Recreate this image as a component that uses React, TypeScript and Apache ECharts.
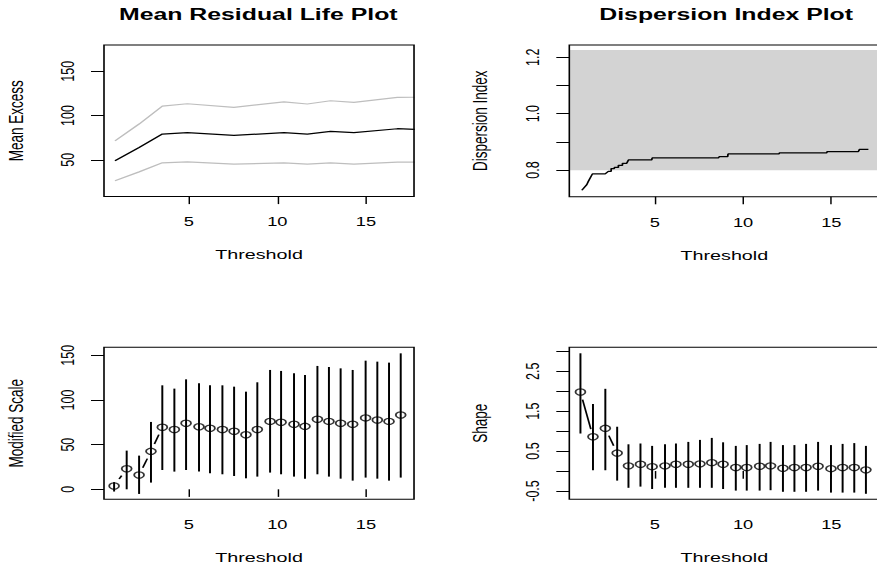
import React, { useEffect, useRef } from "react";
import * as echarts from "echarts";

// ---- data ----
// Mean Residual Life plot
const mrlThreshold = [0.84, 2.2, 3.51, 4.92, 7.55, 10.37, 11.69, 13.0, 14.32, 16.77, 17.75];
const mrlMean = [48.9, 64.0, 79.1, 80.6, 77.6, 80.6, 79.1, 82.1, 80.6, 85.1, 84.4];
const mrlUpper = [71.3, 90.4, 110.7, 113.3, 109.3, 115.3, 113.0, 116.7, 114.9, 120.5, 120.6];
const mrlLower = [26.3, 36.4, 46.6, 47.7, 45.1, 46.6, 45.1, 46.6, 45.1, 47.5, 47.3];

// Dispersion index plot
const diThreshold = [0.87, 1.15, 1.24, 1.47, 2.19, 2.37, 2.53, 2.53, 2.71, 2.71, 2.94, 2.94, 3.17, 3.17, 3.41, 3.51, 4.83, 4.85, 8.6, 8.65, 9.13, 9.15, 12.04, 12.06, 14.74, 14.76, 16.53, 16.6, 17.1];
const diValue = [0.728, 0.748, 0.76, 0.786, 0.786, 0.795, 0.795, 0.805, 0.805, 0.809, 0.809, 0.8165, 0.8165, 0.8236, 0.8236, 0.8355, 0.8355, 0.8426, 0.8426, 0.8473, 0.8473, 0.8568, 0.8568, 0.8603, 0.8603, 0.865, 0.865, 0.8733, 0.8733];
const diBandLower = 0.799;
const diBandUpper = 1.226;

// Parameter stability plots
const fitThreshold = [0.79, 1.5, 2.2, 2.87, 3.51, 4.19, 4.85, 5.58, 6.2, 6.9, 7.56, 8.23, 8.87, 9.59, 10.21, 10.94, 11.56, 12.26, 12.91, 13.57, 14.25, 14.98, 15.64, 16.3, 16.96];
const scaleEst = [3.7, 23, 16, 42.5, 69.4, 67, 73.9, 70, 68.3, 67, 65, 61, 67, 76, 75, 72.8, 70.5, 78.4, 76, 73.9, 72.8, 79.9, 77.6, 76, 83.2];
const scaleLow = [-2.5, 0, -5.2, 7.5, 21.6, 19.8, 21.6, 19.8, 17.9, 16.8, 14.9, 12.3, 14.2, 18.7, 16.8, 14.2, 11.9, 16.8, 14.2, 11.9, 9.7, 13.1, 11.9, 9.7, 13.1];
const scaleHigh = [8, 43.3, 37.7, 75.4, 116.4, 112.7, 123.1, 118.7, 116.4, 116.4, 114.9, 109.3, 119.8, 133.6, 132.5, 129.9, 128, 138.1, 136.9, 135.4, 133.6, 144, 142.9, 141.8, 152.2];
const shapeEst = [1.98, 0.86, 1.07, 0.45, 0.13, 0.17, 0.11, 0.13, 0.17, 0.17, 0.18, 0.21, 0.17, 0.09, 0.09, 0.12, 0.13, 0.07, 0.09, 0.09, 0.12, 0.06, 0.09, 0.09, 0.03];
const shapeLow = [0.94, 0.02, 0.02, -0.24, -0.42, -0.39, -0.45, -0.42, -0.42, -0.42, -0.42, -0.42, -0.45, -0.49, -0.49, -0.49, -0.48, -0.52, -0.52, -0.52, -0.49, -0.54, -0.54, -0.54, -0.57];
const shapeHigh = [2.95, 1.68, 2.06, 1.11, 0.67, 0.69, 0.63, 0.67, 0.69, 0.73, 0.78, 0.83, 0.72, 0.63, 0.65, 0.68, 0.73, 0.65, 0.65, 0.68, 0.73, 0.65, 0.68, 0.7, 0.63];

// tick values
const xTicks = [5, 10, 15];
const mrlYTicks = [50, 100, 150];
const diYTicks = [0.8, 0.9, 1.0, 1.1, 1.2];
const diYLabels = [0.8, 1.0, 1.2];
const scaleYTicks = [0, 50, 100, 150];
const shapeYTicks = [-0.5, 0, 0.5, 1, 1.5, 2, 2.5, 3];
const shapeYLabels = [-0.5, 0.5, 1.5, 2.5];

const titles = ["Mean Residual Life Plot", "Dispersion Index Plot"];

const STRETCH = 877 / 600;
const FONT = "'Liberation Sans', Arial, Helvetica, sans-serif";

function zip(a: number[], b: number[]) {
  return a.map((v, i) => [v, b[i]]);
}

export default function App() {
  const ref = useRef<HTMLDivElement>(null);

  useEffect(() => {
    if (!ref.current) return;
    const chart = echarts.init(ref.current, undefined, { renderer: "svg" });

    const gridW = 212.1;
    const grids = [
      { left: 71.15, top: 45, width: gridW, height: 151.5 },
      { left: 389.5, top: 45, width: gridW, height: 151.7 },
      { left: 71.15, top: 347.3, width: gridW, height: 152 },
      { left: 389.5, top: 347.3, width: gridW, height: 152 },
    ].map((g) => ({
      ...g,
      show: true,
      z: 10,
      borderColor: "#000",
      borderWidth: 1.1,
      backgroundColor: "rgba(0,0,0,0)",
    }));

    const xRanges = [
      [0.22, 17.71],
      [0.16, 17.72],
      [0.22, 17.71],
      [0.16, 17.72],
    ];

    const xAxis = xRanges.map((r, i) => ({
      gridIndex: i,
      type: "value",
      min: r[0],
      max: r[1],
      axisLine: { show: false },
      splitLine: { show: false },
      axisTick: {
        show: true,
        length: 7.6,
        customValues: xTicks,
        lineStyle: { color: "#000", width: 1 },
      },
      axisLabel: {
        customValues: xTicks,
        margin: 19,
        fontSize: 12.5,
        color: "#000",
        fontFamily: FONT,
      },
      name: "Threshold",
      nameLocation: "middle",
      nameGap: 51.5,
      nameTextStyle: { fontSize: 13.5, color: "#000", fontFamily: FONT },
    }));

    const yDefs = [
      { min: 8.6, max: 179.6, ticks: mrlYTicks, labels: mrlYTicks, name: "Mean Excess", fmt: (v: number) => String(v), gap: 52.5 },
      { min: 0.705, max: 1.2437, ticks: diYTicks, labels: diYLabels, name: "Dispersion Index", fmt: (v: number) => v.toFixed(1), gap: 53.5 },
      { min: -11.2, max: 158.96, ticks: scaleYTicks, labels: scaleYTicks, name: "Modified Scale", fmt: (v: number) => String(v), gap: 52.5 },
      { min: -0.708, max: 3.1, ticks: shapeYTicks, labels: shapeYLabels, name: "Shape", fmt: (v: number) => v.toFixed(1), gap: 53.5 },
    ];

    const yAxis = yDefs.map((d, i) => ({
      gridIndex: i,
      type: "value",
      min: d.min,
      max: d.max,
      axisLine: { show: false },
      splitLine: { show: false },
      axisTick: {
        show: true,
        length: 8.9,
        customValues: d.ticks,
        lineStyle: { color: "#000", width: 1 },
      },
      axisLabel: {
        customValues: d.labels,
        rotate: 90,
        align: "center",
        verticalAlign: "middle",
        margin: 24.8,
        fontSize: 12.5,
        color: "#000",
        fontFamily: FONT,
        formatter: d.fmt,
      },
      name: d.name,
      nameLocation: "middle",
      nameGap: d.gap,
      nameRotate: 90,
      nameTextStyle: { fontSize: 13.5, color: "#000", fontFamily: FONT },
    }));

    const GAP = 7.7;
    const segRender = (params: any, api: any) => {
      const p1 = api.coord([api.value(0), api.value(1)]);
      const p2 = api.coord([api.value(2), api.value(3)]);
      const dx = p2[0] - p1[0];
      const dy = p2[1] - p1[1];
      const d = Math.sqrt(dx * dx + dy * dy);
      if (d <= 2 * GAP) return { type: "group", children: [] };
      const ux = dx / d;
      const uy = dy / d;
      return {
        type: "line",
        shape: {
          x1: p1[0] + ux * GAP,
          y1: p1[1] + uy * GAP,
          x2: p2[0] - ux * GAP,
          y2: p2[1] - uy * GAP,
        },
        style: { stroke: "#000", lineWidth: 1.2 },
      };
    };
    const barRender = (params: any, api: any) => {
      const a = api.coord([api.value(0), api.value(1)]);
      const b = api.coord([api.value(0), api.value(2)]);
      return {
        type: "line",
        shape: { x1: a[0], y1: a[1], x2: b[0], y2: b[1] },
        style: { stroke: "#000", lineWidth: 1.35 },
      };
    };

    const segData = (xs: number[], ys: number[]) =>
      xs.slice(0, -1).map((x, i) => [x, ys[i], xs[i + 1], ys[i + 1]]);
    const barData = (xs: number[], lo: number[], hi: number[]) =>
      xs.map((x, i) => [x, lo[i], hi[i]]);

    const lineSeries = (idx: number, data: number[][], color: string, width: number, extra: any = {}) => ({
      type: "line",
      xAxisIndex: idx,
      yAxisIndex: idx,
      data,
      showSymbol: false,
      symbol: "none",
      silent: true,
      clip: true,
      lineStyle: { color, width },
      ...extra,
    });

    const stabilitySeries = (idx: number, est: number[], lo: number[], hi: number[]) => [
      {
        type: "custom",
        xAxisIndex: idx,
        yAxisIndex: idx,
        silent: true,
        renderItem: barRender,
        data: barData(fitThreshold, lo, hi),
      },
      {
        type: "custom",
        xAxisIndex: idx,
        yAxisIndex: idx,
        silent: true,
        renderItem: segRender,
        data: segData(fitThreshold, est),
      },
      {
        type: "scatter",
        xAxisIndex: idx,
        yAxisIndex: idx,
        silent: true,
        symbol: "circle",
        symbolSize: [6.8, 6.2],
        itemStyle: { color: "rgba(0,0,0,0)", borderColor: "#000", borderWidth: 1.2 },
        data: zip(fitThreshold, est),
      },
    ];

    const series: any[] = [
      lineSeries(0, zip(mrlThreshold, mrlUpper), "#bebebe", 1.2),
      lineSeries(0, zip(mrlThreshold, mrlLower), "#bebebe", 1.2),
      lineSeries(0, zip(mrlThreshold, mrlMean), "#000", 1.2),
      lineSeries(1, zip(diThreshold, diValue), "#000", 1.2, {
        markArea: {
          silent: true,
          itemStyle: { color: "#d3d3d3" },
          data: [[{ yAxis: diBandLower }, { yAxis: diBandUpper }]],
        },
      }),
      ...stabilitySeries(2, scaleEst, scaleLow, scaleHigh),
      ...stabilitySeries(3, shapeEst, shapeLow, shapeHigh),
    ];

    chart.setOption({
      animation: false,
      backgroundColor: "#fff",
      textStyle: { fontFamily: FONT, color: "#000" },
      title: [
        {
          text: titles[0],
          left: 176.7,
          top: 6,
          textAlign: "center",
          padding: 0,
          textStyle: { fontSize: 17, fontWeight: "bold", color: "#000", fontFamily: FONT },
        },
        {
          text: titles[1],
          left: 496.8,
          top: 6,
          textAlign: "center",
          padding: 0,
          textStyle: { fontSize: 17, fontWeight: "bold", color: "#000", fontFamily: FONT },
        },
      ],
      grid: grids,
      xAxis,
      yAxis,
      series,
    });

    return () => chart.dispose();
  }, []);

  return (
    <div
      style={{
        position: "fixed",
        left: 0,
        top: 0,
        width: 877,
        height: 572,
        overflow: "hidden",
        background: "#fff",
      }}
    >
      <div
        ref={ref}
        style={{
          width: 610,
          height: 572,
          transform: `scaleX(${STRETCH})`,
          transformOrigin: "0 0",
        }}
      />
    </div>
  );
}
